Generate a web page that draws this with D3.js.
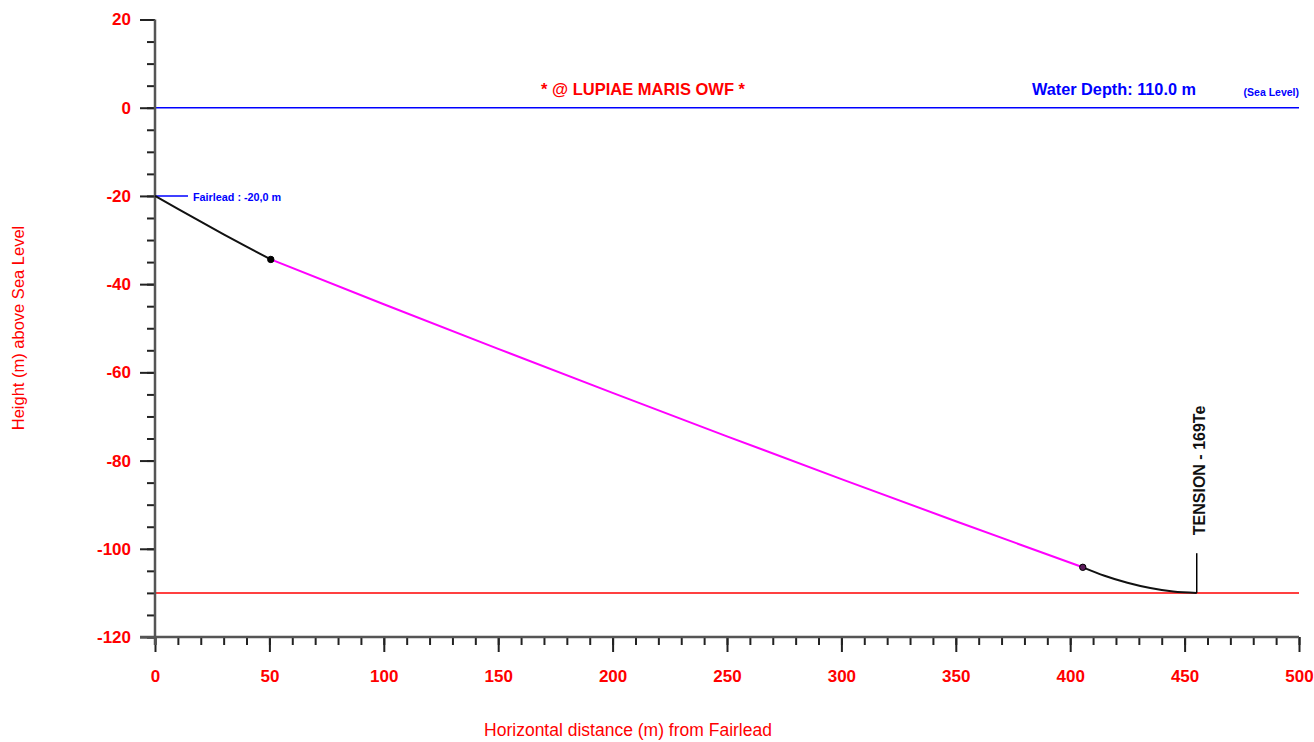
<!DOCTYPE html>
<html>
<head>
<meta charset="utf-8">
<script src="https://cdn.jsdelivr.net/npm/d3@7"></script>
<style>
  html, body { margin: 0; padding: 0; background: #fff; }
  svg { display: block; font-family: "Liberation Sans", Arial, Helvetica, sans-serif; }
</style>
</head>
<body>
<svg id="chart" width="1314" height="742"></svg>
<script>
// ---- data ----
const xTicksMajor = [0, 50, 100, 150, 200, 250, 300, 350, 400, 450, 500];
const yTicksMajor = [20, 0, -20, -40, -60, -80, -100, -120];
const xDomain = [0, 500];
const yDomain = [-120, 20];

// upper chain (fairlead to first connection)
const chainTop = [[0, -20], [10, -22.95], [20, -25.85], [30, -28.7], [40, -31.5], [50.6, -34.4]];
// middle (rope) section
const ropeMid = [[50.6, -34.4], [100, -44.55], [150, -54.68], [200, -64.66], [250, -74.50], [300, -84.20], [350, -93.75], [405.5, -104.2]];
// bottom chain (to touchdown)
const chainBottom = [[405.5, -104.2], [415, -106.1], [425, -107.7], [435, -108.9], [445, -109.7], [455.3, -110]];
const connectors = [[50.6, -34.4, "#000"], [405.5, -104.2, "#5a1a5a"]];

const seaLevel = 0;
const seabed = -110;
const fairleadDepth = -20;
const tensionMark = [455.3, -101];

const titleText = "* @ LUPIAE MARIS OWF *";
const depthText = "Water Depth: 110.0 m";
const seaLevelText = "(Sea Level)";
const fairleadText = "Fairlead : -20,0 m";
const tensionText = "TENSION - 169Te";
const xLabel = "Horizontal distance (m) from Fairlead";
const yLabel = "Height (m) above Sea Level";

// ---- scales ----
const svg = d3.select("#chart");
const x = d3.scaleLinear().domain(xDomain).range([155, 1299]);
const y = d3.scaleLinear().domain(yDomain).range([637, 19.5]);

const axisColor = "#555";
const red = "#ff0000";
const blue = "#0000ff";

// ---- reference lines ----
svg.append("line")
  .attr("x1", x(0)).attr("x2", x(500))
  .attr("y1", y(seaLevel)).attr("y2", y(seaLevel))
  .attr("stroke", blue).attr("stroke-width", 1.5);
svg.append("line")
  .attr("x1", x(0)).attr("x2", x(500))
  .attr("y1", y(seabed)).attr("y2", y(seabed))
  .attr("stroke", red).attr("stroke-width", 1.5);
svg.append("line")
  .attr("x1", x(0)).attr("x2", x(0) + 33)
  .attr("y1", y(fairleadDepth)).attr("y2", y(fairleadDepth))
  .attr("stroke", blue).attr("stroke-width", 1.5);

// ---- y axis ----
const yAxisMinor = d3.axisLeft(y).tickValues(d3.range(-120, 21, 5)).tickSize(8).tickFormat("");
const gyMinor = svg.append("g").attr("transform", `translate(${x(0)},0)`).call(yAxisMinor);
const yAxisMajor = d3.axisLeft(y).tickValues(yTicksMajor).tickSize(15).tickPadding(9).tickFormat(d3.format("d"));
const gy = svg.append("g").attr("transform", `translate(${x(0)},0)`).call(yAxisMajor);
[gyMinor, gy].forEach(g => {
  g.select(".domain").remove();
  g.selectAll(".tick line").attr("stroke", "#222").attr("stroke-width", 2);
});
gy.selectAll(".tick text")
  .attr("fill", red).attr("font-size", "17px").attr("font-weight", "bold")
  .style("font-family", "'Liberation Sans', Arial, sans-serif")
  .text(d => d < 0 ? "-" + Math.abs(d) : d);

// ---- x axis ----
const xAxisMinor = d3.axisBottom(x).tickValues(d3.range(0, 501, 10)).tickSize(8).tickFormat("");
const gxMinor = svg.append("g").attr("transform", `translate(0,${y(-120)})`).call(xAxisMinor);
const xAxisMajor = d3.axisBottom(x).tickValues(xTicksMajor).tickSize(15).tickPadding(18).tickFormat(d3.format("d"));
const gx = svg.append("g").attr("transform", `translate(0,${y(-120)})`).call(xAxisMajor);
[gxMinor, gx].forEach(g => {
  g.select(".domain").remove();
  g.selectAll(".tick line").attr("stroke", "#222").attr("stroke-width", 2);
});
gx.selectAll(".tick text")
  .attr("fill", red).attr("font-size", "17px").attr("font-weight", "bold")
  .style("font-family", "'Liberation Sans', Arial, sans-serif");

// axis lines
svg.append("line")
  .attr("x1", x(0)).attr("x2", x(0))
  .attr("y1", y(20)).attr("y2", y(-120) + 8)
  .attr("stroke", axisColor).attr("stroke-width", 2.5);
svg.append("line")
  .attr("x1", x(0) - 15).attr("x2", x(500))
  .attr("y1", y(-120)).attr("y2", y(-120))
  .attr("stroke", axisColor).attr("stroke-width", 2.5);

// ---- mooring line ----
const line = d3.line().x(d => x(d[0])).y(d => y(d[1])).curve(d3.curveMonotoneX);
svg.append("path").datum(ropeMid).attr("d", line)
  .attr("fill", "none").attr("stroke", "#ff00ff").attr("stroke-width", 2);
svg.append("path").datum(chainTop).attr("d", line)
  .attr("fill", "none").attr("stroke", "#111").attr("stroke-width", 2);
svg.append("path").datum(chainBottom).attr("d", line)
  .attr("fill", "none").attr("stroke", "#111").attr("stroke-width", 2);
svg.selectAll("circle.conn").data(connectors).enter().append("circle")
  .attr("class", "conn")
  .attr("cx", d => x(d[0])).attr("cy", d => y(d[1])).attr("r", 3.2)
  .attr("fill", d => d[2]).attr("stroke", "#000").attr("stroke-width", 1);

// tension marker
svg.append("line")
  .attr("x1", x(tensionMark[0])).attr("x2", x(tensionMark[0]))
  .attr("y1", y(seabed)).attr("y2", y(tensionMark[1]))
  .attr("stroke", "#000").attr("stroke-width", 1.5);
svg.append("text")
  .attr("transform", `translate(${x(tensionMark[0]) + 8},${y(tensionMark[1]) - 18}) rotate(-90)`)
  .attr("font-size", "16px").attr("font-weight", "bold").attr("fill", "#111")
  .text(tensionText);

// ---- annotation texts ----
svg.append("text")
  .attr("x", 643).attr("y", 95).attr("text-anchor", "middle")
  .attr("font-size", "16.5px").attr("font-weight", "bold").attr("fill", red)
  .text(titleText);
svg.append("text")
  .attr("x", 1196).attr("y", 95).attr("text-anchor", "end")
  .attr("font-size", "16.3px").attr("font-weight", "bold").attr("fill", blue)
  .text(depthText);
svg.append("text")
  .attr("x", 1299).attr("y", 96).attr("text-anchor", "end")
  .attr("font-size", "10.5px").attr("font-weight", "bold").attr("fill", blue)
  .text(seaLevelText);
svg.append("text")
  .attr("x", 193).attr("y", 201).attr("text-anchor", "start")
  .attr("font-size", "10.8px").attr("font-weight", "bold").attr("fill", blue)
  .text(fairleadText);

// axis titles
svg.append("text")
  .attr("x", 628).attr("y", 736).attr("text-anchor", "middle")
  .attr("font-size", "17.5px").attr("fill", red)
  .text(xLabel);
svg.append("text")
  .attr("transform", "translate(24,328) rotate(-90)")
  .attr("text-anchor", "middle")
  .attr("font-size", "16.5px").attr("fill", red)
  .text(yLabel);
</script>
</body>
</html>
